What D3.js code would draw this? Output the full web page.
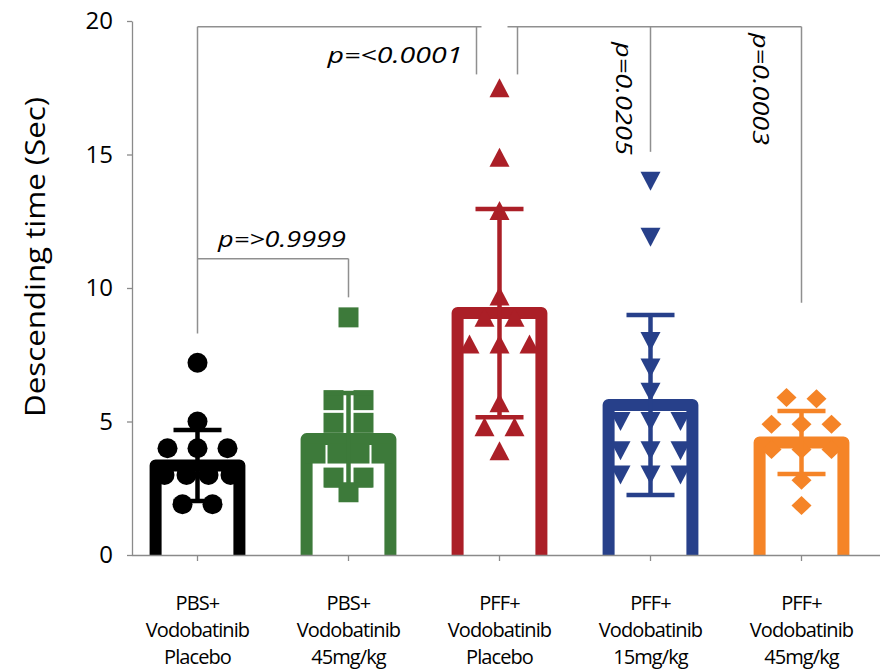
<!DOCTYPE html>
<html>
<head>
<meta charset="utf-8">
<script src="https://cdn.jsdelivr.net/npm/d3@7/dist/d3.min.js"></script>
<style>
  html, body { margin: 0; padding: 0; background: #fff; }
  svg { display: block; }
  text { font-family: "Open Sans", "Noto Sans", sans-serif; fill: #000; }
</style>
</head>
<body>
<svg id="chart" width="888" height="670"></svg>
<script>
// Groups (x-axis categories, one label line per entry)
const categories = [
  ["PBS+", "Vodobatinib", "Placebo"],
  ["PBS+", "Vodobatinib", "45mg/kg"],
  ["PFF+", "Vodobatinib", "Placebo"],
  ["PFF+", "Vodobatinib", "15mg/kg"],
  ["PFF+", "Vodobatinib", "45mg/kg"]
];

// Bar heights (mean) and error bars (SD), seconds
const means = [3.35, 4.34, 9.06, 5.62, 4.21];
const sds   = [1.33, 1.73, 3.90, 3.37, 1.18];

// Individual animals, seconds
const pointsPbsPlacebo = [7.2, 5.0, 4.0, 4.0, 4.0, 3.0, 3.0, 3.0, 3.0, 1.9, 1.9];
const pointsPbs45      = [8.9, 5.8, 5.8, 4.95, 4.95, 3.8, 3.8, 3.8, 3.8, 2.9, 2.9, 2.35];
const pointsPffPlacebo = [17.5, 14.9, 12.9, 9.7, 8.9, 8.9, 7.9, 7.9, 7.9, 5.7, 4.8, 4.8, 3.9];
const pointsPff15      = [14.0, 11.9, 8.0, 7.0, 6.1, 5.0, 5.0, 5.0, 3.9, 3.9, 3.9, 3.0, 3.0, 3.0];
const pointsPff45      = [5.9, 5.85, 4.9, 4.9, 4.9, 3.95, 3.95, 3.95, 2.8, 1.85];
const groupPoints = [pointsPbsPlacebo, pointsPbs45, pointsPffPlacebo, pointsPff15, pointsPff45];

const yTicks = [0, 5, 10, 15, 20];
const yTitle = "Descending time (Sec)";

// Multiple-comparison p values
const pValues = ["p=>0.9999", "p=<0.0001", "p=0.0205", "p=0.0003"];

const colors = ["#000000", "#3d7a3a", "#ab1f27", "#27408a", "#f58427"];

// ---- custom marker shapes (20px boxes) ----
const triUp = { draw(ctx, size) { const r = Math.sqrt(size) / 2;
  ctx.moveTo(0, -r * 0.95); ctx.lineTo(r, r * 0.95); ctx.lineTo(-r, r * 0.95); ctx.closePath(); } };
const triDown = { draw(ctx, size) { const r = Math.sqrt(size) / 2;
  ctx.moveTo(0, r * 0.95); ctx.lineTo(r, -r * 0.95); ctx.lineTo(-r, -r * 0.95); ctx.closePath(); } };
const diamond = { draw(ctx, size) { const r = Math.sqrt(size) / 2;
  ctx.moveTo(0, -r * 0.95); ctx.lineTo(r, 0); ctx.lineTo(0, r * 0.95); ctx.lineTo(-r, 0); ctx.closePath(); } };
const markers = [
  d3.symbol(d3.symbolCircle, Math.PI * 100),
  d3.symbol(d3.symbolSquare, 400),
  d3.symbol(triUp, 400),
  d3.symbol(triDown, 400),
  d3.symbol(diamond, 400)
];

const svg = d3.select("#chart");
const axisColor = "#8a8a8a";

const y = d3.scaleLinear().domain([0, 20]).range([555, 21]);
const x = d3.scaleBand().domain(d3.range(categories.length)).range([122, 877]).padding(0);
const cx = i => x(i) + x.bandwidth() / 2;
const barW = x.bandwidth() * 0.555;

// ---- bars: open-bottom outlines ----
svg.append("g").selectAll("path").data(means).join("path")
  .attr("d", (m, i) => d3.line()([
    [cx(i) - barW / 2, y(0)], [cx(i) - barW / 2, y(m)],
    [cx(i) + barW / 2, y(m)], [cx(i) + barW / 2, y(0)]
  ]))
  .attr("fill", "none")
  .attr("stroke", (d, i) => colors[i])
  .attr("stroke-width", 12)
  .attr("stroke-linejoin", "round")
  .attr("stroke-linecap", "butt");

// ---- scatter points: values close together share a row and spread sideways ----
function spread(values) {
  const sorted = values.map((v, k) => ({ v, k })).sort((a, b) => b.v - a.v);
  const rows = [];
  sorted.forEach(p => {
    const last = rows[rows.length - 1];
    if (last && Math.abs(last[0].v - p.v) < 0.35) last.push(p); else rows.push([p]);
  });
  const out = [];
  rows.forEach(row => {
    const n = row.length;
    const step = n > 1 ? Math.min(30, 66 / (n - 1)) : 0;
    row.forEach((p, j) => out.push({ v: p.v, dx: (j - (n - 1) / 2) * step }));
  });
  return out;
}

groupPoints.forEach((vals, i) => {
  svg.append("g").selectAll("path").data(spread(vals)).join("path")
    .attr("d", markers[i])
    .attr("transform", d => `translate(${cx(i) + d.dx},${y(d.v)})`)
    .attr("fill", colors[i]);
});

// ---- error bars (mean ± SD) ----
const capW = 48;
const eg = svg.append("g");
means.forEach((m, i) => {
  const g = eg.append("g").attr("stroke", colors[i]).attr("stroke-width", 4.5);
  g.append("line").attr("x1", cx(i)).attr("x2", cx(i))
    .attr("y1", y(m - sds[i])).attr("y2", y(m + sds[i]));
  [m - sds[i], m + sds[i]].forEach(v => g.append("line")
    .attr("x1", cx(i) - capW / 2).attr("x2", cx(i) + capW / 2)
    .attr("y1", y(v)).attr("y2", y(v)));
});

// ---- axes ----
const yAxis = svg.append("g").attr("transform", "translate(132,0)")
  .call(d3.axisLeft(y).tickValues(yTicks).tickSize(5).tickPadding(14).tickSizeOuter(0));
yAxis.select(".domain").attr("stroke", axisColor).attr("stroke-width", 1.3);
yAxis.selectAll(".tick line").attr("stroke", axisColor).attr("stroke-width", 1.3);
yAxis.selectAll(".tick text").attr("font-size", 24).attr("font-family", "Open Sans").attr("fill", "#000");

const xAxis = svg.append("g").attr("transform", `translate(0,${y(0)})`)
  .call(d3.axisBottom(x).tickSize(6).tickSizeOuter(0).tickFormat(() => ""));
xAxis.select(".domain").attr("d", `M132,0.5H880`).attr("stroke", axisColor).attr("stroke-width", 1.3);
xAxis.selectAll(".tick line").attr("stroke", axisColor).attr("stroke-width", 1.3);

// category labels, three lines each
const lab = svg.append("g").attr("font-size", 20).attr("letter-spacing", -0.9)
  .attr("text-anchor", "middle");
categories.forEach((lines, i) => {
  lines.forEach((t, j) => lab.append("text")
    .attr("x", cx(i)).attr("y", 610 + j * 27).text(t));
});

// y-axis title
svg.append("text")
  .attr("transform", `translate(45,257) rotate(-90)`)
  .attr("text-anchor", "middle").attr("font-size", 28)
  .attr("textLength", 320).attr("lengthAdjust", "spacingAndGlyphs")
  .text(yTitle);

// ---- significance brackets ----
const br = svg.append("g").attr("stroke", "#8f8f8f").attr("stroke-width", 1.5).attr("fill", "none");
const seg = (x1, y1, x2, y2) => br.append("line").attr("x1", x1).attr("y1", y1).attr("x2", x2).attr("y2", y2);
const topY = y(19.78);
// PBS placebo vs PFF placebo, and PFF placebo vs the two treated PFF groups
seg(cx(0), topY, cx(2) - 18, topY);
seg(cx(0), topY, cx(0), y(8.3));
seg(cx(2) - 23, topY, cx(2) - 23, y(18.0));
seg(cx(2) + 8, topY, cx(4), topY);
seg(cx(2) + 18, topY, cx(2) + 18, y(18.0));
seg(cx(3), topY, cx(3), y(15.1));
seg(cx(4), topY, cx(4), y(9.45));
// PBS placebo vs PBS 45mg/kg
seg(cx(0), y(11.1), cx(1), y(11.1));
seg(cx(1), y(11.1), cx(1), y(9.65));

const pl = svg.append("g").attr("font-size", 22).attr("font-style", "italic");
pl.append("text").attr("x", 218).attr("y", 247)
  .attr("textLength", 128).attr("lengthAdjust", "spacingAndGlyphs").text(pValues[0]);
pl.append("text").attr("x", cx(2) - 37 - 135).attr("y", 63)
  .attr("textLength", 135).attr("lengthAdjust", "spacingAndGlyphs").text(pValues[1]);
pl.append("text").attr("transform", `translate(${cx(3) - 35},42) rotate(90)`)
  .attr("textLength", 113).attr("lengthAdjust", "spacingAndGlyphs").text(pValues[2]);
pl.append("text").attr("transform", `translate(${cx(4) - 49},33) rotate(90)`)
  .attr("textLength", 112).attr("lengthAdjust", "spacingAndGlyphs").text(pValues[3]);
</script>
</body>
</html>
